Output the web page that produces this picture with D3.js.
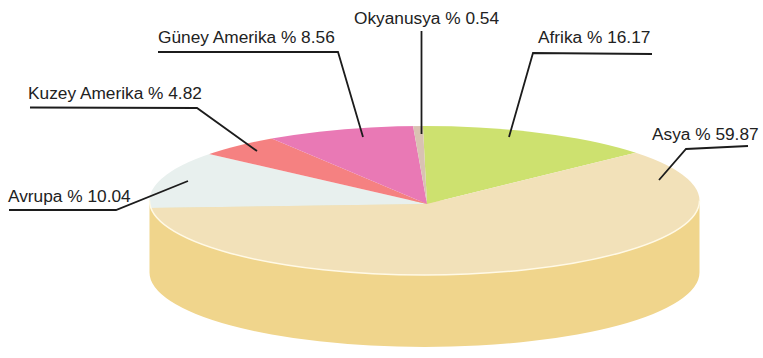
<!DOCTYPE html>
<html>
<head>
<meta charset="utf-8">
<script src="https://cdn.jsdelivr.net/npm/d3@7"></script>
<style>
	html, body { margin: 0; padding: 0; background: #fff; }
	svg { display: block; }
	text { font-family: "Liberation Sans", Arial, sans-serif; font-size: 17.3px; fill: #222; }
</style>
</head>
<body>
<div id="chart"></div>
<script>
// clockwise from the top of the pie
const continents = ["Afrika", "Asya", "Avrupa", "Kuzey Amerika", "Güney Amerika", "Okyanusya"];
const percentLabels = ["16.17", "59.87", "10.04", "4.82", "8.56", "0.54"];
// slice sizes as drawn in the picture (not quite the printed percentages)
const drawnShares = [13.5, 60.9, 12, 4.75, 8.3, 0.55];
const sliceColors = ["#cde16f", "#f2e1b9", "#e8f0ee", "#f58181", "#e979b5", "#d9c2b2"];

// label x, baseline y, then the leader line points
const labelX = [538, 652, 8, 28, 158, 354];
const labelY = [43, 140, 202, 99, 43, 24];
const leaders = [
	[[652, 54], [533, 53], [509, 137]],
	[[748, 146], [686, 149], [659, 180]],
	[[9, 210], [116, 210], [188, 181]],
	[[30, 107.5], [197, 108], [257, 151]],
	[[158, 52], [338, 52], [363, 137]],
	[[421.5, 31], [421.5, 134]]
];

const width = 763, height = 358;
const cx = 424.5, cy = 200.5, rx = 275, ry = 74.5, depth = 72;
const apexX = 427, apexY = 204;

const svg = d3.select("#chart").append("svg")
	.attr("width", width)
	.attr("height", height);

// half ellipse along the front, left to right
const frontEdge = y => "A" + rx + "," + ry + " 0 0 0 " + (cx + rx) + "," + y;

// side wall of the disc
svg.append("path")
	.attr("d", "M" + (cx - rx) + "," + cy + "V" + (cy + depth) + frontEdge(cy + depth) + "V" + cy + "Z")
	.attr("fill", "#f0d58c");

// top face, slices clipped to the ellipse
svg.append("clipPath")
	.attr("id", "topFace")
	.append("ellipse")
	.attr("cx", cx)
	.attr("cy", cy)
	.attr("rx", rx)
	.attr("ry", ry);

const pie = d3.pie()
	.sort(null)
	.startAngle(359.2 * Math.PI / 180)
	.endAngle((359.2 + 360) * Math.PI / 180);

const arc = d3.arc()
	.innerRadius(0)
	.outerRadius(1.2);

svg.append("g")
	.attr("clip-path", "url(#topFace)")
	.append("g")
	.attr("transform", "translate(" + apexX + "," + apexY + ") scale(" + rx + "," + ry + ")")
	.selectAll("path")
	.data(pie(drawnShares))
	.enter()
	.append("path")
	.attr("d", arc)
	.attr("fill", (d, i) => sliceColors[i]);

// light rim along the front edge
svg.append("path")
	.attr("d", "M" + (cx - rx) + "," + cy + frontEdge(cy))
	.attr("fill", "none")
	.attr("stroke", "#fff9e6")
	.attr("stroke-width", 1.5);

// leaders
const line = d3.line();

svg.selectAll(".leader")
	.data(leaders)
	.enter()
	.append("path")
	.attr("class", "leader")
	.attr("d", line)
	.attr("fill", "none")
	.attr("stroke", "#1c1c1c")
	.attr("stroke-width", 1.8);

// labels
svg.selectAll(".label")
	.data(continents)
	.enter()
	.append("text")
	.attr("class", "label")
	.attr("x", (d, i) => labelX[i])
	.attr("y", (d, i) => labelY[i])
	.text((d, i) => d + " % " + percentLabels[i]);
</script>
</body>
</html>
